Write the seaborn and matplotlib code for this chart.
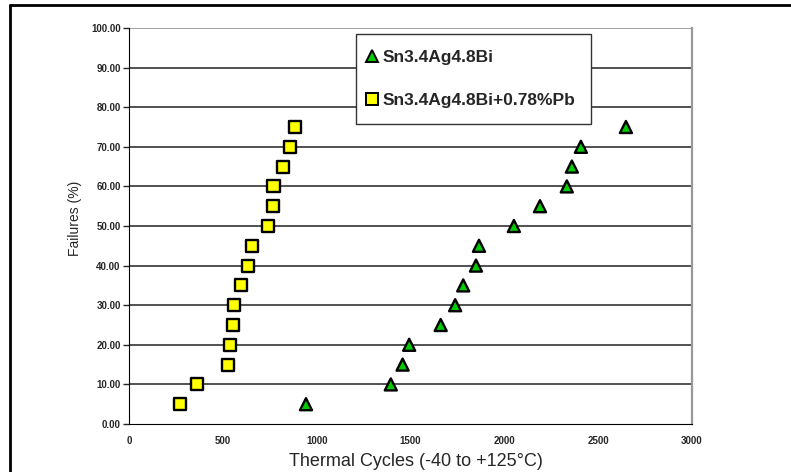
import pandas as pd
import seaborn as sns
import numpy as np
import matplotlib.pyplot as plt
from matplotlib.lines import Line2D

# values
failures = [5, 10, 15, 20, 25, 30, 35, 40, 45, 50, 55, 60, 65, 70, 75]
cycles_bi = [943, 1395, 1458, 1493, 1661, 1738, 1781, 1849, 1865, 2051, 2190, 2333, 2360, 2408, 2648]
cycles_pb = [272, 362, 527, 537, 555, 560, 597, 634, 655, 740, 767, 770, 820, 858, 884]
label_bi = 'Sn3.4Ag4.8Bi'
label_pb = 'Sn3.4Ag4.8Bi+0.78%Pb'
x_ticks = [0, 500, 1000, 1500, 2000, 2500, 3000]
y_ticks = [0, 10, 20, 30, 40, 50, 60, 70, 80, 90, 100]

df = pd.DataFrame({
    'cycles': cycles_bi + cycles_pb,
    'failures': failures + failures,
    'alloy': [label_bi] * len(cycles_bi) + [label_pb] * len(cycles_pb),
})

sns.set_style('white')
plt.rcParams['font.family'] = ['Liberation Sans', 'DejaVu Sans']

fig = plt.figure(figsize=(7.91, 4.72), dpi=100)
ax = fig.add_axes([0.1631, 0.1017, 0.7117, 0.839])

sns.scatterplot(data=df, x='cycles', y='failures', hue='alloy', style='alloy',
                palette={label_bi: '#00cc00', label_pb: '#ffff00'},
                markers={label_bi: '^', label_pb: 's'},
                s=75, edgecolor='black', linewidth=1.7, legend=False, ax=ax, zorder=3)

ax.set_xlim(0, 3000)
ax.set_ylim(0, 100)
ax.set_xticks(x_ticks)
ax.set_yticks(y_ticks)
ax.set_yticklabels([f'{v:.2f}' for v in y_ticks], fontsize=7, fontweight='bold')
ax.set_xticklabels([str(v) for v in x_ticks], fontsize=7, fontweight='bold')
for y in y_ticks[1:]:
    ax.axhline(y, color='#222222' if y < 100 else '#888888', lw=1.1, zorder=1)

ax.spines['left'].set_color('black')
ax.spines['bottom'].set_color('black')
ax.spines['right'].set_color('#999999')
ax.spines['right'].set_linewidth(1.6)
ax.spines['top'].set_visible(False)
ax.tick_params(axis='y', length=4, width=1, direction='out', left=True, pad=2)
ax.tick_params(axis='x', length=0, pad=9)

ax.set_xlabel('Thermal Cycles (-40 to +125\u00b0C)', fontsize=13)
ax.set_ylabel('Failures (%)', fontsize=10)
ax.xaxis.set_label_coords(0.51, -0.074)
ax.yaxis.set_label_coords(-0.084, 0.518)

handles = [
    Line2D([], [], marker='^', ls='', markersize=8, markerfacecolor='#00cc00',
           markeredgecolor='black', markeredgewidth=1.4, label=label_bi),
    Line2D([], [], marker='s', ls='', markersize=8, markerfacecolor='#ffff00',
           markeredgecolor='black', markeredgewidth=1.4, label=label_pb),
]
leg = ax.legend(handles=handles, loc='upper left', bbox_to_anchor=(0.403, 0.985),
                frameon=True, fancybox=False, framealpha=1, edgecolor='#333333',
                prop={'weight': 'bold', 'size': 12.5}, labelspacing=1.63,
                handletextpad=0.55, handlelength=0.1, borderpad=0.9, borderaxespad=0)
leg.get_frame().set_linewidth(1.0)
leg.set_zorder(5)

# outer frame lines (top and left) of the original figure
fig.add_artist(Line2D([10 / 791, 1], [1 - 5 / 472, 1 - 5 / 472], color='black', lw=2))
fig.add_artist(Line2D([10 / 791, 10 / 791], [0, 1 - 5 / 472], color='black', lw=2))

plt.savefig('out.png', dpi=100)
